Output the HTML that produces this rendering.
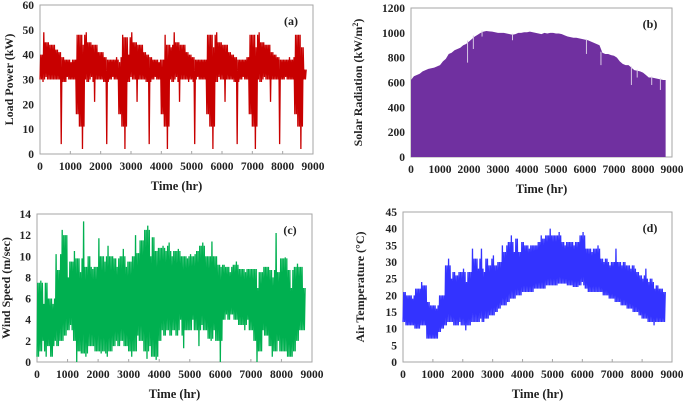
<!DOCTYPE html>
<html><head><meta charset="utf-8"><style>
html,body{margin:0;padding:0;background:#fff;width:685px;height:402px;overflow:hidden}
svg text{font-family:"Liberation Serif",serif;font-weight:bold;fill:#222}
</style></head><body>
<svg id="chart" width="685" height="402" viewBox="0 0 685 402" xmlns="http://www.w3.org/2000/svg"></svg>
<script>
const xTicks=[0,1000,2000,3000,4000,5000,6000,7000,8000,9000];
const loadHigh=[40,49,45,44,44,42,41,39,38,38,37,38,48,48,44,49,45,44,44,41,41,39,38,38,38,39,37,48,47,40,49,45,44,44,41,40,39,38,38,37,38,48,44,43,49,45,44,44,41,40,39,38,38,38,38,48,48,43,49,45,44,44,41,40,39,38,38,38,39,48,48,43,49,45,44,44,41,40,39,38,38,38,39,38,48,48,43,34];
const loadLow=[30,29,31,30,30,30,30,4,29,31,30,30,16,11,2,30,29,31,21,30,30,29,4,30,31,30,16,11,2,29,31,30,21,30,30,29,4,30,31,30,16,11,2,30,29,31,21,30,30,29,30,4,31,30,30,16,11,2,29,31,30,21,30,30,29,4,30,31,30,16,11,2,30,29,31,30,21,30,30,4,30,31,30,30,16,11,2,30];
const solarTop=[620,650,660,670,690,700,710,715,720,730,740,770,790,830,840,860,870,880,900,910,930,950,970,985,1000,1010,1015,1012,1010,1005,1000,1000,1000,995,990,985,990,1000,1000,1005,1005,1010,1005,1000,995,990,1000,995,1000,1000,995,995,990,980,970,965,960,960,955,950,945,940,930,920,910,900,840,830,830,820,815,800,770,750,740,740,720,700,695,690,680,660,640,640,635,630,625,620];
const solarDipTimes=[1950,2150,2450,3500,6050,6550,7600,7800,8300,8600];
const solarDipValues=[760,870,970,940,830,740,580,640,580,540];
const windHigh=[7.5,7.7,5.5,7.5,6,5.5,10.2,8.7,12.5,12,8,9.5,10.5,9.8,8.5,13.3,9,10,8.8,9,11.7,10,9.5,11,10,9.8,9,10,10.7,9,9.5,10,12,10.3,11.5,12.5,12.9,10,11.8,10.5,10.8,11,10.5,11.3,10,10.5,10.7,10,10,9.8,10.2,10,10.5,11,11.3,10,10,11.4,10,9.2,9,9.2,9,8.5,9.2,9.5,8.8,8.8,8.5,8.8,8.8,8.8,7,8.5,9,9,8.7,8,12.2,8.5,9.8,9.9,8.7,7,9,9.3,9,7];
const windLow=[0.5,1,2,0.5,1.5,0.5,2,1.5,2,2.5,3,3.5,2,0,1,0.8,0.5,1.5,1.5,1,1,0.8,1,0.5,1,1.5,2,1.5,2,1.5,1,0.5,1,2.5,2,1,0.3,1.5,0.5,0.2,2,3,2.5,3,2.5,3,2.5,4,1.3,3,3,4,3,1.5,3.5,3,2.2,2,3,2,0,4,4.5,4,4.5,4,3.5,3.5,3,4,3,2,0,1,3,2.5,1.5,0.5,1,2,1,1,0.5,0.5,1,2,3,3];
const tempHigh=[21,20,20,19,22,22,24,23,18,17,17,16,20,20,29,31,25,27,26,27,28,24,27,34,31,28,34,27,31,29,32,29,30,35,33,36,38,33,37,33,36,35,34,35,35,36,38,37,38,40,38,38,39,36,35,36,36,35,36,38,39,34,34,33,34,35,31,30,31,29,30,34,30,29,30,29,28,29,27,26,25,28,24,25,22,23,22,21];
const tempLow=[12,11,11,11,10,10,11,11,7,7,7,7,9,10,11,12,12,11,11,12,11,9.5,11,12,12,12,13,12,13,14,14,15,16,17,17,18,19,19,20,20,21,21,21,21,22,22,22,22,23,23,23,23,23.5,23.5,23.5,23,23,22.5,22.5,23,24,22,21,21,21,21,21,20,20,19,19,18,18,17,17,16,16,15,15,14,13,13,12,12,11,12,12,12];
const loadYTicks=[0,10,20,30,40,50,60];
const solarYTicks=[0,200,400,600,800,1000,1200];
const windYTicks=[0,2,4,6,8,10,12,14];
const tempYTicks=[0,5,10,15,20,25,30,35,40,45];

const NS='http://www.w3.org/2000/svg';
const svg=document.getElementById('chart');
function mk(tag,attrs,parent){const e=document.createElementNS(NS,tag);for(const k in attrs)e.setAttribute(k,attrs[k]);(parent||svg).appendChild(e);return e;}

function panel(p){
  const g=mk('g',{});
  
  
  const xs=t=>p.l+(t/9000)*(p.r-p.l);
  const ys=v=>p.b-(v/p.ymax)*(p.b-p.t);
  const frame=mk('rect',{x:p.l,y:p.t,width:p.r-p.l,height:p.b-p.t,fill:'none',stroke:'#a6a6a6','stroke-width':1},g);
  
  
  p.yt.forEach(v=>{
    const t=mk('text',{x:p.l-6,y:ys(v)+4,'text-anchor':'end','font-size':11.5},g);t.textContent=v;
    
    
  });
  xTicks.forEach(v=>{
    mk('line',{x1:xs(v),x2:xs(v),y1:p.b,y2:p.b-3,stroke:'#a6a6a6'},g);
    const t=mk('text',{x:xs(v),y:p.b+16,'text-anchor':'middle','font-size':11.5},g);t.textContent=v;
    
    
  });
  const xt=mk('text',{x:(p.l+p.r)/2,y:p.b+36,'text-anchor':'middle','font-size':12.5},g);xt.textContent='Time (hr)';
  
  
  const yc=(p.t+p.b)/2;
  const yt=mk('text',{x:p.yx,y:yc,'text-anchor':'middle','font-size':12,transform:`rotate(-90 ${p.yx} ${yc})`},g);
  yt.innerHTML=p.ytitle;
  
  
  const lb=mk('text',{x:p.r-22,y:p.t+20,'text-anchor':'middle','font-size':12},g);lb.textContent=p.label;
  
  
  return {g,xs,ys};
}

function med3(a,b,c){return Math.max(Math.min(a,b),Math.min(Math.max(a,b),c));}
function zigzag(ax,lows,highs,color,w,name){
  const n=Math.min(lows.length,highs.length);let d='';
  for(let i=0;i<n;i++){
    const t=i*100;
    const a=Math.max(0,i-1),b=Math.min(n-1,i+1);
    const lo2=med3(lows[a],lows[i],lows[b]);
    const hi2=med3(highs[a],highs[i],highs[b]);
    const pts=[[t,lows[i]],[t+25,highs[i]],[t+50,lo2],[t+75,hi2]];
    pts.forEach((q,k)=>{d+=((i||k)?'L':'M')+ax.xs(q[0]).toFixed(2)+','+ax.ys(q[1]).toFixed(2);});
  }
  const path=mk('path',{d,fill:'none',stroke:color,'stroke-width':w,'stroke-linejoin':'miter'},ax.g);
  
  
}

// (a) load
const A=panel({name:'load-power-panel',l:40,r:313,t:5,b:154,ymax:60,yt:loadYTicks,yx:13,ytitle:'Load Power (kW)',label:'(a)'});
zigzag(A,loadLow,loadHigh,'#c80000',1.3,'load-power-series');

// (b) solar
const B=panel({name:'solar-radiation-panel',l:411,r:672,t:8,b:157,ymax:1200,yt:solarYTicks,yx:362,ytitle:'Solar Radiation (kW/m<tspan font-size="8" dy="-4">2</tspan><tspan dy="4">)</tspan>',label:'(b)'});
{
  let d='M'+B.xs(0)+','+B.ys(0);
  solarTop.forEach((v,i)=>{d+='L'+B.xs(i*100).toFixed(2)+','+B.ys(v).toFixed(2);});
  d+='L'+B.xs(8780).toFixed(2)+','+B.ys(solarTop[solarTop.length-1]).toFixed(2)+'L'+B.xs(8780).toFixed(2)+','+B.ys(0)+'Z';
  const a=mk('path',{d,fill:'#7030a0'},B.g);
  
  
  solarDipTimes.forEach((t,i)=>{
    const top=solarTop[Math.min(solarTop.length-1,Math.round(t/100))];
    const l=mk('line',{x1:B.xs(t),x2:B.xs(t),y1:B.ys(solarDipValues[i]),y2:B.ys(top)-1,stroke:'#d8c8e4','stroke-width':1},B.g);
    
    
  });
}

// (c) wind
const C=panel({name:'wind-speed-panel',l:37,r:312,t:214,b:362,ymax:14,yt:windYTicks,yx:10,ytitle:'Wind Speed (m/sec)',label:'(c)'});
zigzag(C,windLow,windHigh,'#00b050',1.3,'wind-speed-series');

// (d) temperature
const D=panel({name:'air-temperature-panel',l:403,r:672,t:212,b:362,ymax:45,yt:tempYTicks,yx:364,ytitle:'Air Temperature (°C)',label:'(d)'});
zigzag(D,tempLow,tempHigh,'#3333ff',1.3,'air-temperature-series');
</script>
</body></html>
